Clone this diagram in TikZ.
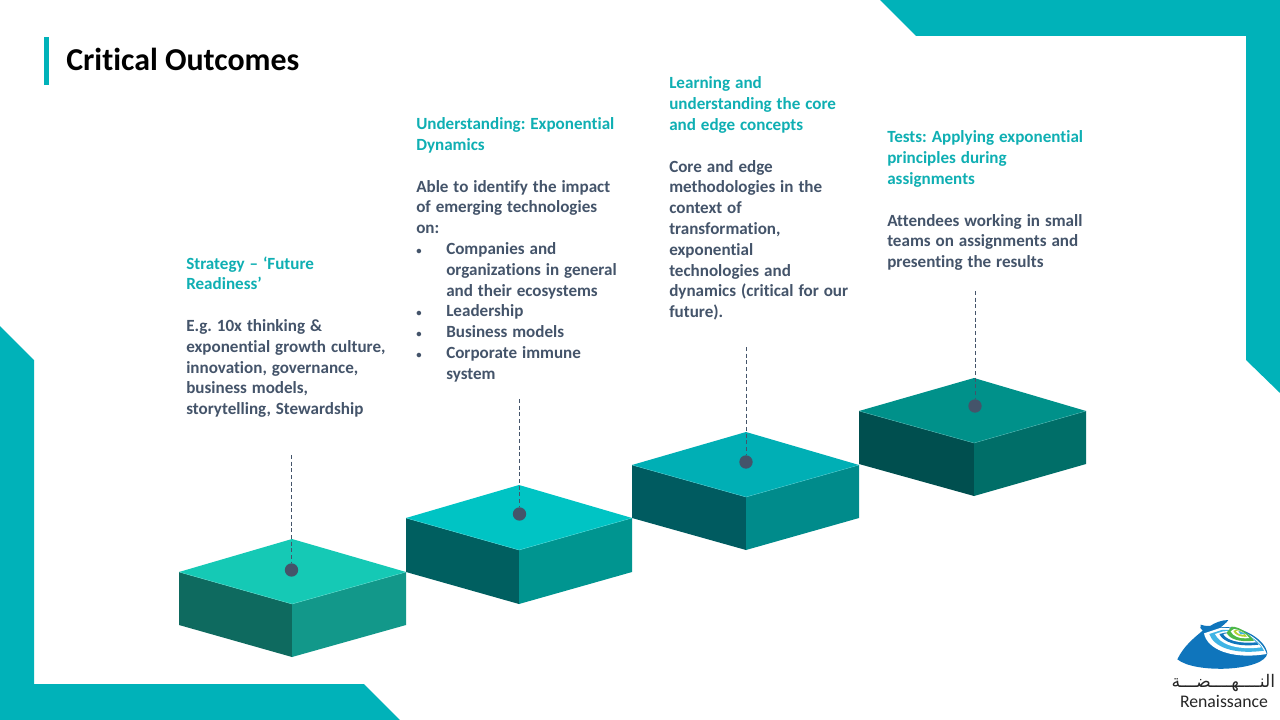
\documentclass[tikz,border=0pt]{standalone}
\usepackage{fontspec}
\setmainfont[Ligatures=CommonOff]{Carlito}
\newfontfamily\arabicfont[Script=Arabic]{DejaVu Sans}
\TeXXeTstate=1
\definecolor{frameteal}{HTML}{00B2B9}
\definecolor{slate}{HTML}{44546A}
\definecolor{headteal}{HTML}{0FAFB3}
\definecolor{aT}{HTML}{15C9B5}\definecolor{aL}{HTML}{0E6A5F}\definecolor{aR}{HTML}{12988A}
\definecolor{bT}{HTML}{00C4C4}\definecolor{bL}{HTML}{005F60}\definecolor{bR}{HTML}{009590}
\definecolor{cT}{HTML}{00AFB5}\definecolor{cL}{HTML}{005B60}\definecolor{cR}{HTML}{008B8B}
\definecolor{dT}{HTML}{00918A}\definecolor{dL}{HTML}{004F4F}\definecolor{dR}{HTML}{006E68}
\definecolor{logoblue}{HTML}{0F75BC}
\definecolor{logolight}{HTML}{3FB4E5}
\definecolor{logogreen}{HTML}{4DB848}
\definecolor{logolime}{HTML}{B5D334}
\newcommand{\widerwords}{\spaceskip=3.7pt\relax\xspaceskip=3.7pt\relax}
\tikzset{
  frame/.style={fill=frameteal,draw=none},
  blocktext/.style={inner sep=0pt,anchor=north west,align=left,text=slate,font=\fontsize{12.8}{15.6}\selectfont\bfseries,execute at begin node=\widerwords},
  dotmark/.style={circle,fill=slate,draw=none,inner sep=0pt,minimum size=10pt},
  leader/.style={draw=slate,line width=0.6pt,dash pattern=on 3pt off 2pt},
}
\newcommand{\hd}[1]{\textcolor{headteal}{#1}}
\newcommand{\bul}{\makebox[22.5pt][l]{\raisebox{0.4pt}{\fontsize{8}{8}\selectfont•}}}
\newcommand{\ind}{\hspace*{22.5pt}}
% #1 x-left, #2 x-mid, #3 x-right, #4 y-side, #5 y-back, #6 y-front, #7 height, #8 colour prefix
\newcommand{\slab}[8]{%
  \fill[#8L] (#1,#4) -- (#2,#6) -- (#2,#6+#7) -- (#1,#4+#7) -- cycle;
  \fill[#8R] (#3,#4) -- (#2,#6) -- (#2,#6+#7) -- (#3,#4+#7) -- cycle;
  \fill[#8T] (#1,#4) -- (#2,#5) -- (#3,#4) -- (#2,#6) -- cycle;
  \draw[#8T!70!white,line width=0.25pt] (#1,#4) -- (#2,#6) -- (#3,#4);
}
\begin{document}
\begin{tikzpicture}[x=0.75pt,y=-0.75pt]
\useasboundingbox (0,0) rectangle (1280,720);
\fill[white] (0,0) rectangle (1280,720);
\fill[frame] (880,0) -- (1280,0) -- (1280,393) -- (1246,360) -- (1246,36) -- (916,36) -- cycle;
\fill[frame] (0,326) -- (34,360) -- (34,684) -- (364,684) -- (400,720) -- (0,720) -- cycle;
\fill[frameteal] (44,37) rectangle (49,85);
\node[inner sep=0pt,anchor=base west,font=\fontsize{23.9}{28}\selectfont\bfseries,text=black] (title) at (66,71) {Critical Outcomes};

\slab{179}{292}{406}{572}{539}{604}{53}{a}
\slab{406}{519}{632}{518}{485}{550}{54}{b}
\slab{632}{746}{859}{465}{432}{497}{53}{c}
\slab{859}{974}{1086}{411}{378}{443}{53}{d}

\coordinate (t1) at (291.5,455);
\coordinate (t2) at (519.5,399);
\coordinate (t3) at (746,347);
\coordinate (t4) at (975,291);
\node[dotmark] (d1) at (291.5,570) {};
\node[dotmark] (d2) at (519.5,514) {};
\node[dotmark] (d3) at (746,462) {};
\node[dotmark] (d4) at (975,406) {};
\draw[leader] (t1) -- (d1);
\draw[leader] (t2) -- (d2);
\draw[leader] (t3) -- (d3);
\draw[leader] (t4) -- (d4);

\node[blocktext] (s1) at (186,256.3) {\hd{Strategy – ‘Future}\\\hd{Readiness’}\\\mbox{}\\E.g. 10x thinking \&\\exponential growth culture,\\innovation, governance,\\business models,\\storytelling, Stewardship};
\node[blocktext] (s2) at (416,117.5) {\hd{Understanding: Exponential}\\\hd{Dynamics}\\\mbox{}\\Able to identify the impact\\of emerging technologies\\on:\\\bul Companies and\\\ind organizations in general\\\ind and their ecosystems\\\bul Leadership\\\bul Business models\\\bul Corporate immune\\\ind system};
\node[blocktext] (s3) at (669,76.7) {\hd{Learning and}\\\hd{understanding the core}\\\hd{and edge concepts}\\\mbox{}\\Core and edge\\methodologies in the\\context of\\transformation,\\exponential\\technologies and\\dynamics (critical for our\\future).};
\node[blocktext] (s4) at (887,130.7) {\hd{Tests: Applying exponential}\\\hd{principles during}\\\hd{assignments}\\\mbox{}\\Attendees working in small\\teams on assignments and\\presenting the results};

% logo, drawn in the coordinates of a 3x crop at (1160,610)
\begin{scope}[shift={(1160,610)},x=0.25pt,y=-0.25pt]
\fill[logoblue] (52,148) .. controls (70,110) and (100,85) .. (128,62) .. controls (122,58) and (118,50) .. (122,44) .. controls (135,48) and (142,48) .. (150,48) .. controls (165,38) and (185,30) .. (205,30) .. controls (200,38) and (190,45) .. (182,52) .. controls (240,45) and (315,85) .. (322,130) .. controls (318,155) and (270,172) .. (200,176) .. controls (140,178) and (80,170) .. (52,148) -- cycle;
\fill[white] (132,70) .. controls (140,115) and (210,150) .. (320,132) .. controls (305,85) and (240,50) .. (180,54) -- cycle;
\fill[logolight] (148,72) .. controls (160,110) and (220,135) .. (312,122) .. controls (295,85) and (240,55) .. (185,60) -- cycle;
\fill[white] (165,72) .. controls (178,100) and (225,122) .. (304,112) .. controls (285,85) and (240,60) .. (190,64) -- cycle;
\fill[logoblue] (178,72) .. controls (188,95) and (230,112) .. (296,104) .. controls (278,82) and (240,62) .. (195,68) -- cycle;
\fill[white] (190,72) .. controls (198,88) and (232,102) .. (288,97) .. controls (272,78) and (240,64) .. (200,70) -- cycle;
\fill[logogreen] (200,68) .. controls (206,85) and (235,98) .. (282,92) .. controls (268,72) and (240,50) .. (215,50) -- cycle;
\fill[white] (212,64) .. controls (218,78) and (238,88) .. (268,84) .. controls (258,70) and (238,58) .. (222,57) -- cycle;
\fill[logolime] (220,63) .. controls (224,74) and (240,82) .. (262,80) .. controls (252,68) and (238,60) .. (226,60) -- cycle;
\fill[white] (228,64) .. controls (232,70) and (242,76) .. (252,75) .. controls (246,68) and (238,64) .. (232,63) -- cycle;
\fill[logolight] (236,63) -- (258,72) -- (240,72) -- cycle;
\node[inner sep=0pt,text=black!85,font=\arabicfont\fontsize{13}{15}\selectfont] (logoar) at (190,218) {\beginR النــــهــــضـــة\endR};
\node[inner sep=0pt,text=black!85,font=\fontsize{13.3}{15}\selectfont] (logoen) at (192,275) {Renaissance};
\end{scope}
\end{tikzpicture}
\end{document}
